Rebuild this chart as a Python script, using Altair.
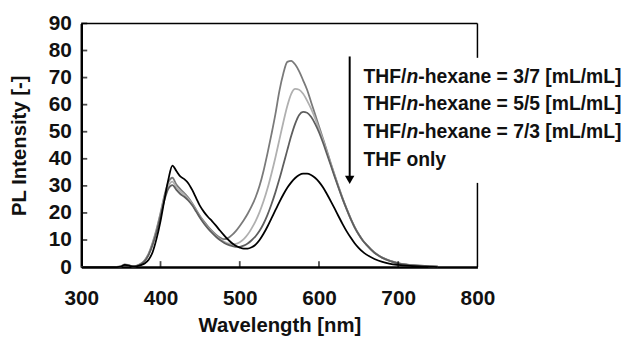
import altair as alt
import pandas as pd

FONT = "Liberation Sans"

wavelength = [300, 320, 340,
              350, 355, 360, 365, 370, 375, 380, 385, 390, 395,
              400, 405, 410, 415, 420, 425, 430, 435, 440, 445,
              450, 455, 460, 465, 470, 475, 480, 485, 490, 495,
              500, 505, 510, 515, 520, 525, 530, 535, 540, 545,
              550, 555, 560, 565, 570, 575, 580, 585, 590, 595,
              600, 605, 610, 615, 620, 625, 630, 635, 640, 645,
              650, 655, 660,
              670, 680, 690, 700, 710, 720, 730, 740, 750]

thf_only = [0, 0, 0,
            0.2, 0.8, 0.5, 0.2, 0.3, 0.7, 1.3, 2.7, 5.5, 10.5,
            17, 25, 32.5, 37.5, 35.5, 33.5, 32.5, 31, 28.5, 25.5,
            22.5, 20.3, 18.5, 17, 15.3, 13.5, 11.8, 10.2, 8.9, 7.9,
            7.2, 6.8, 6.8, 7.3, 8.3, 10, 12.3, 15, 18, 21,
            24, 26.8, 29.3, 31.3, 32.9, 34, 34.5, 34.5, 34, 33,
            31.5, 29.5, 27, 24.3, 21.5, 18.6, 15.8, 13.2, 10.9, 8.8,
            7.1, 5.7, 4.6,
            3, 1.9, 1.2, 0.8, 0.5, 0.3, 0.2, 0.1, 0]

ratio_37 = [0, 0, 0,
            0.3, 1.0, 0.7, 0.3, 0.5, 1.2, 2.5, 5, 9, 14,
            20, 26.5, 31.5, 33, 30.5, 28.8, 27.3, 25.7, 23.6, 21.2,
            18.8, 16.8, 15, 13.4, 12, 10.9, 10.3, 10.7, 11.8, 13.3,
            15.2, 17.3, 19.7, 22.5, 25.8, 30, 35.5, 42, 49, 56.5,
            65, 71.5, 75.8, 76.2, 74.8, 72.3, 69, 65.5, 61, 56.5,
            52, 47.5, 43, 38.3, 33.8, 29.5, 25.3, 21.5, 18, 14.8,
            12.2, 10, 8.3,
            5.4, 3.5, 2.3, 1.5, 1, 0.7, 0.5, 0.3, 0.2]

ratio_55 = [0, 0, 0,
            0.3, 0.9, 0.6, 0.3, 0.4, 1.1, 2.3, 4.7, 8.5, 13.5,
            19.5, 25.5, 30, 31.6, 29.5, 28, 26.8, 25.2, 23.2, 20.8,
            18.4, 16.3, 14.5, 12.9, 11.5, 10.3, 9.4, 8.8, 8.5, 8.6,
            9.2, 10.3, 12, 14.3, 17, 20.3, 24.3, 29, 34.5, 40.5,
            47, 53.5, 59.5, 64, 65.8, 65.5, 64, 61.5, 58.5, 55,
            51, 47, 42.5, 38, 33.5, 29.2, 25, 21.3, 17.8, 14.7,
            12.1, 9.9, 8.2,
            5.3, 3.4, 2.2, 1.4, 0.9, 0.6, 0.4, 0.3, 0.2]

ratio_73 = [0, 0, 0,
            0.2, 0.8, 0.6, 0.3, 0.4, 1, 2.2, 4.5, 8.2, 13,
            19, 24.8, 29, 30.3, 28.5, 27, 26, 24.6, 22.8, 20.5,
            18.1, 16, 14.2, 12.6, 11.2, 10, 9, 8.3, 7.8, 7.5,
            7.5, 7.9, 8.7, 9.9, 11.4, 13.4, 16, 19.3, 23.2, 27.6,
            32.5, 37.8, 43.2, 48.5, 53, 56.2, 57.3, 57, 55.5, 53,
            49.8, 46, 41.8, 37.5, 33.2, 29, 25, 21.3, 17.8, 14.7,
            12.1, 9.9, 8.2,
            5.3, 3.4, 2.2, 1.4, 0.9, 0.6, 0.4, 0.3, 0.2]

series_names = ["3/7", "5/5", "7/3", "THF only"]
series_values = [ratio_37, ratio_55, ratio_73, thf_only]
series_colors = ["#7a7a7a", "#b0b0b0", "#5e5e5e", "#000000"]

x_ticks = [300, 400, 500, 600, 700, 800]
y_ticks = [0, 10, 20, 30, 40, 50, 60, 70, 80, 90]

legend_ratios = ["3/7", "5/5", "7/3"]

rows = []
for name, vals in zip(series_names, series_values):
    for w, v in zip(wavelength, vals):
        rows.append({"wl": w, "pl": v, "series": name})
df = pd.DataFrame(rows)

xscale = alt.Scale(domain=[300, 800], nice=False, zero=False)
yscale = alt.Scale(domain=[0, 90], nice=False)

x_axis = alt.Axis(values=x_ticks, tickSize=0, grid=False, labelPadding=32,
                  labelBaseline="middle", labelFlush=False, labelOverlap=False,
                  titleX=200, titleY=59, titleBaseline="middle")
y_axis = alt.Axis(values=y_ticks, tickSize=0, grid=False, labelPadding=10,
                  labelFlush=False, labelOverlap=False,
                  titleX=-62, titleY=123, titleAngle=270,
                  titleBaseline="middle", titleAlign="center")
X_TITLE = "Wavelength [nm]"
Y_TITLE = "PL Intensity [-]"


def XD(v):
    return alt.XDatum(v, type="quantitative", scale=xscale, axis=x_axis, title=X_TITLE)


def YD(v):
    return alt.YDatum(v, type="quantitative", scale=yscale, axis=y_axis, title=Y_TITLE)


lines = alt.Chart(df).mark_line(strokeWidth=1.8, interpolate="monotone").encode(
    x=alt.X("wl:Q", scale=xscale, title=X_TITLE, axis=x_axis),
    y=alt.Y("pl:Q", scale=yscale, title=Y_TITLE, axis=y_axis),
    color=alt.Color("series:N", scale=alt.Scale(domain=series_names, range=series_colors),
                    legend=None),
    order=alt.Order("series:N"),
)

top_frame = alt.Chart().mark_rule(color="black", strokeWidth=1.5).encode(
    x=XD(300), x2=alt.datum(800), y=YD(90))
right_top = alt.Chart().mark_rule(color="black", strokeWidth=1.5).encode(
    x=XD(800), y=YD(77.3), y2=alt.datum(90))
right_bot = alt.Chart().mark_rule(color="black", strokeWidth=1.5).encode(
    x=XD(800), y=YD(0), y2=alt.datum(31.1))

xt = pd.DataFrame({"v": x_ticks[1:-1]})
yt = pd.DataFrame({"v": y_ticks[1:]})
x_tick_marks = alt.Chart(xt).mark_tick(color="black", thickness=1.8, size=6, yOffset=-3).encode(
    x=alt.X("v:Q", scale=xscale, title=X_TITLE, axis=x_axis), y=YD(0))
y_tick_marks = alt.Chart(yt).mark_tick(color="black", thickness=1.8, size=6, xOffset=3,
                                        orient="horizontal").encode(
    y=alt.Y("v:Q", scale=yscale, title=Y_TITLE, axis=y_axis), x=XD(300))

arrow_x = 638.75
arrow_line = alt.Chart().mark_rule(color="black", strokeWidth=2).encode(
    x=XD(arrow_x), y=YD(77.8), y2=alt.datum(33))
arrow_head = alt.Chart().mark_point(shape="triangle-down", filled=True, color="black",
                                    size=90, opacity=1).encode(
    x=XD(arrow_x), y=YD(32.2))

FS = 19.5
text_x = 656.25
legend_layers = []
line_y = [70.3, 60.1, 49.9, 39.6]
for i, r in enumerate(legend_ratios):
    y = line_y[i]
    legend_layers.append(alt.Chart().mark_text(
        text="THF/", font=FONT, fontSize=FS, fontWeight="bold", align="left",
        baseline="middle", color="#111").encode(x=XD(text_x), y=YD(y)))
    legend_layers.append(alt.Chart().mark_text(
        text="n", font=FONT, fontSize=FS, fontWeight="bold", fontStyle="italic",
        align="left", baseline="middle", dx=2.222 * FS, color="#111").encode(
        x=XD(text_x), y=YD(y)))
    legend_layers.append(alt.Chart().mark_text(
        text=f"-hexane = {r} [mL/mL]", font=FONT, fontSize=FS, fontWeight="bold",
        align="left", baseline="middle", dx=(2.222 + 0.611) * FS, color="#111").encode(
        x=XD(text_x), y=YD(y)))
legend_layers.append(alt.Chart().mark_text(
    text="THF only", font=FONT, fontSize=FS, fontWeight="bold", align="left",
    baseline="middle", color="#111").encode(x=XD(text_x), y=YD(line_y[3])))

chart = alt.layer(
    lines, top_frame, right_top, right_bot, x_tick_marks, y_tick_marks,
    arrow_line, arrow_head, *legend_layers
).properties(
    width=400, height=246,
    autosize=alt.AutoSizeParams(type="none"),
    padding={"left": 74, "top": 14, "right": 150, "bottom": 68},
    background="white",
).configure_view(stroke=None).configure_axis(
    labelFont=FONT, labelFontSize=21, labelFontWeight="bold", labelColor="#111",
    titleFont=FONT, titleFontSize=20.5, titleFontWeight="bold", titleColor="#111",
    domainColor="black", domainWidth=2.5,
)

chart.save("out.html", embed_options={"renderer": "svg", "actions": False})
